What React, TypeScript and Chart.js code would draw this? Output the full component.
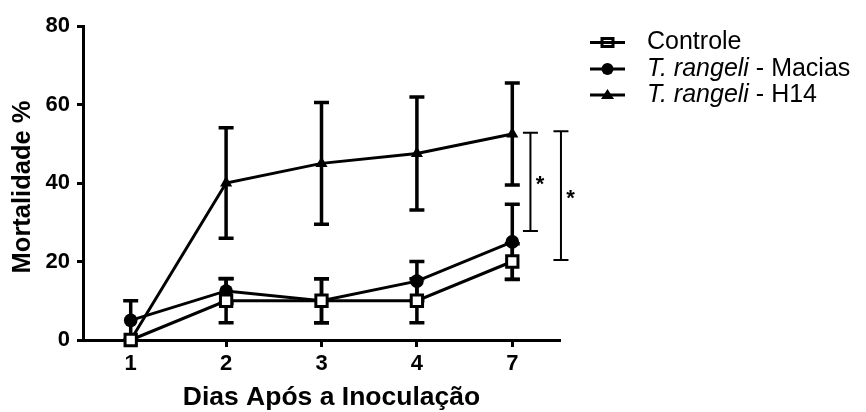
import React, { useEffect, useRef } from 'react';
import { Chart, registerables } from 'chart.js';

Chart.register(...registerables);

const FONT = "'Liberation Sans', Arial, Helvetica, sans-serif";

const days = ['1', '2', '3', '4', '7'];
const yTicks = [0, 20, 40, 60, 80];

const controle = [0, 10, 10, 10, 20];
const controleErr = [0, 5.6, 5.6, 5.6, 4.5];
const macias = [5, 12.5, 10, 15, 25];
const maciasErr = [5, 3.2, 5.6, 5, 9.6];
const h14 = [0, 40, 45, 47.5, 52.5];
const h14Err = [0, 14.1, 15.5, 14.4, 13];

const seriesLabels = ['Controle', 'T. rangeli - Macias', 'T. rangeli - H14'];
const legendItalic = ['', 'T. rangeli', 'T. rangeli'];
const legendRest = ['Controle', ' - Macias', ' - H14'];

const xTitle = 'Dias Após a Inoculação';
const yTitle = 'Mortalidade %';

// significance brackets (y values): low, high
const bracketLow = [27.8, 20.4];
const bracketHigh = [52.8, 53.2];
const bracketText = ['*', '*'];

const errors = [controleErr, maciasErr, h14Err];

const errorBarPlugin = {
  id: 'errorBars',
  beforeDatasetsDraw(chart: any) {
    const ctx = chart.ctx;
    const y = chart.scales.y;
    chart.data.datasets.forEach((ds: any, i: number) => {
      const meta = chart.getDatasetMeta(i);
      const errs = errors[i];
      meta.data.forEach((pt: any, j: number) => {
        const e = errs[j];
        if (!e) return;
        const v = ds.data[j];
        const top = y.getPixelForValue(v + e);
        const bot = y.getPixelForValue(Math.max(0, v - e));
        ctx.save();
        ctx.strokeStyle = '#000';
        ctx.lineWidth = 3.5;
        ctx.beginPath();
        ctx.moveTo(pt.x, top);
        ctx.lineTo(pt.x, bot);
        ctx.moveTo(pt.x - 7.5, top);
        ctx.lineTo(pt.x + 7.5, top);
        ctx.moveTo(pt.x - 7.5, bot);
        ctx.lineTo(pt.x + 7.5, bot);
        ctx.stroke();
        ctx.restore();
      });
    });
  },
};

const bracketOffsets = [0.19, 0.51];

const bracketPlugin = {
  id: 'brackets',
  afterDraw(chart: any) {
    const ctx = chart.ctx;
    const xs = chart.scales.x;
    const ys = chart.scales.y;
    const last = xs.getPixelForValue(days.length - 1);
    const step = last - xs.getPixelForValue(days.length - 2);
    ctx.save();
    ctx.strokeStyle = '#000';
    ctx.fillStyle = '#000';
    ctx.lineWidth = 2;
    bracketLow.forEach((lo, i) => {
      const x = last + step * bracketOffsets[i];
      const yTop = ys.getPixelForValue(bracketHigh[i]);
      const yBot = ys.getPixelForValue(lo);
      ctx.beginPath();
      ctx.moveTo(x, yTop);
      ctx.lineTo(x, yBot);
      ctx.moveTo(x - 7.5, yTop);
      ctx.lineTo(x + 7.5, yTop);
      ctx.moveTo(x - 7.5, yBot);
      ctx.lineTo(x + 7.5, yBot);
      ctx.stroke();
      ctx.font = `bold 22px ${FONT}`;
      ctx.textAlign = 'center';
      ctx.textBaseline = 'alphabetic';
      const mid = (yTop + yBot) / 2;
      ctx.fillText(bracketText[i], x + 9.5, mid - 3 + 12.6);
    });
    ctx.restore();
  },
};

const titlePlugin = {
  id: 'axisTitles',
  afterDraw(chart: any) {
    const ctx = chart.ctx;
    const area = chart.chartArea;
    ctx.save();
    ctx.fillStyle = '#000';
    ctx.textAlign = 'center';
    ctx.textBaseline = 'middle';
    ctx.font = `bold 26.5px ${FONT}`;
    ctx.fillText(xTitle, (area.left + area.right) / 2 + 10, area.bottom + 58);
    ctx.translate(23, (area.top + area.bottom) / 2 + 4);
    ctx.rotate(-Math.PI / 2);
    ctx.font = `bold 25.5px ${FONT}`;
    ctx.fillText(yTitle, 0, 0);
    ctx.restore();
  },
};

const legendPlugin = {
  id: 'customLegend',
  afterDraw(chart: any) {
    const ctx = chart.ctx;
    const rowsY = [42.5, 69, 95];
    const lx1 = 590;
    const lx2 = 625;
    const mx = 607.5;
    const tx = 647;
    ctx.save();
    seriesLabels.forEach((_, i) => {
      const y = rowsY[i];
      ctx.strokeStyle = '#000';
      ctx.fillStyle = '#000';
      ctx.lineWidth = 3;
      ctx.beginPath();
      ctx.moveTo(lx1, y);
      ctx.lineTo(lx2, y);
      ctx.stroke();
      if (i === 0) {
        ctx.fillStyle = '#fff';
        ctx.fillRect(mx - 5.5, y - 4, 11, 8);
        ctx.strokeRect(mx - 5.5, y - 4, 11, 8);
        ctx.beginPath();
        ctx.moveTo(mx - 5.5, y);
        ctx.lineTo(mx + 5.5, y);
        ctx.stroke();
      } else if (i === 1) {
        ctx.beginPath();
        ctx.arc(mx, y, 6, 0, Math.PI * 2);
        ctx.fill();
      } else {
        ctx.beginPath();
        ctx.moveTo(mx, y - 6);
        ctx.lineTo(mx + 6.5, y + 4);
        ctx.lineTo(mx - 6.5, y + 4);
        ctx.closePath();
        ctx.fill();
      }
      ctx.fillStyle = '#000';
      ctx.textBaseline = 'middle';
      ctx.textAlign = 'left';
      let x = tx;
      if (legendItalic[i]) {
        ctx.font = `italic 25px ${FONT}`;
        ctx.fillText(legendItalic[i], x, y);
        x += ctx.measureText(legendItalic[i]).width;
      }
      ctx.font = `25px ${FONT}`;
      ctx.fillText(legendRest[i], x, y);
    });
    ctx.restore();
  },
};

export default function App() {
  const ref = useRef<HTMLCanvasElement>(null);
  useEffect(() => {
    document.body.style.margin = '0';
    const common = {
      borderColor: '#000',
      borderWidth: 3,
      pointBorderColor: '#000',
      tension: 0,
      fill: false,
      clip: false as any,
    };
    const chart = new Chart(ref.current!, {
      type: 'line',
      data: {
        labels: days,
        datasets: [
          {
            ...common,
            label: seriesLabels[0],
            data: controle,
            pointStyle: 'rect',
            pointRadius: 8,
            pointBorderWidth: 3,
            pointBackgroundColor: '#fff',
          },
          {
            ...common,
            label: seriesLabels[1],
            data: macias,
            pointStyle: 'circle',
            pointRadius: 6.8,
            pointBorderWidth: 0,
            pointBackgroundColor: '#000',
          },
          {
            ...common,
            label: seriesLabels[2],
            data: h14,
            pointStyle: 'triangle',
            pointRadius: 7,
            pointBorderWidth: 0,
            pointBackgroundColor: '#000',
          },
        ],
      },
      options: {
        responsive: false,
        animation: false,
        devicePixelRatio: 1,
        layout: { padding: { top: 26, right: 306, bottom: 0, left: 0 } },
        plugins: {
          legend: { display: false },
          tooltip: { enabled: false },
        },
        scales: {
          x: {
            type: 'category',
            offset: true,
            grid: {
              display: true,
              drawOnChartArea: false,
              drawTicks: true,
              tickLength: 7,
              tickWidth: 3,
              tickColor: '#000',
              color: '#000',
            },
            border: { display: true, color: '#000', width: 3 },
            ticks: {
              color: '#000',
              font: { family: FONT, size: 22, weight: 'bold' },
              padding: 4,
            },
            title: { display: false },
            afterFit: (s: any) => {
              s.height = 72;
            },
          },
          y: {
            min: 0,
            max: 80,
            afterBuildTicks: (s: any) => {
              s.ticks = yTicks.map((v) => ({ value: v }));
            },
            grid: {
              display: true,
              drawOnChartArea: false,
              drawTicks: true,
              tickLength: 6,
              tickWidth: 3,
              tickColor: '#000',
              color: '#000',
            },
            border: { display: true, color: '#000', width: 3 },
            ticks: {
              color: '#000',
              font: { family: FONT, size: 22, weight: 'bold' },
              padding: 7,
            },
            title: { display: false },
            afterFit: (s: any) => {
              s.width = 83;
            },
          },
        },
      },
      plugins: [errorBarPlugin, bracketPlugin, titlePlugin, legendPlugin],
    } as any);
    return () => chart.destroy();
  }, []);
  return (
    <div style={{ width: 866, height: 412 }}>
      <canvas ref={ref} width={866} height={412} style={{ display: 'block' }} />
    </div>
  );
}
